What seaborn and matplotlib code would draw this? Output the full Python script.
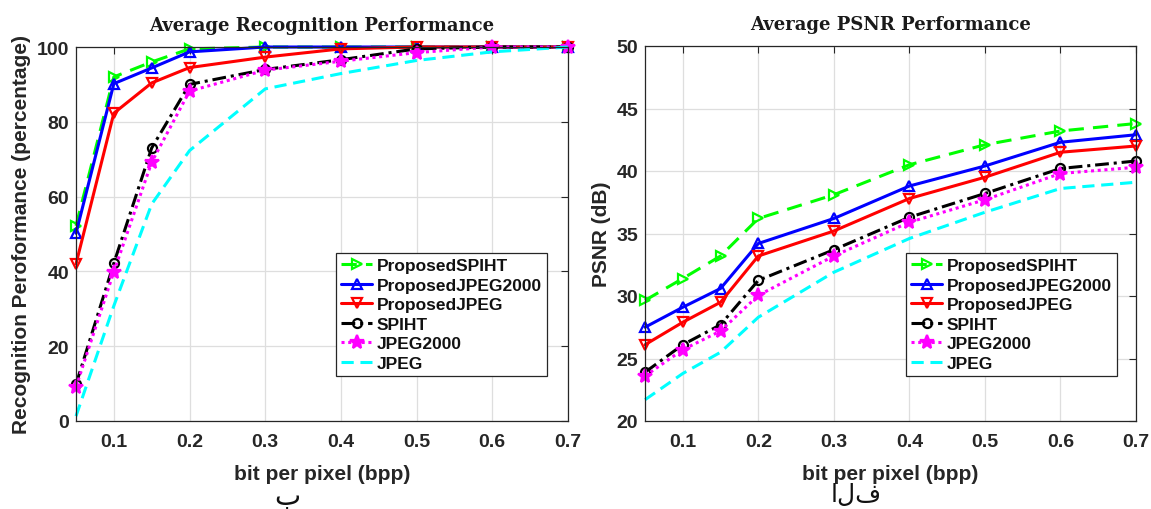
import matplotlib
matplotlib.use("Agg")
import matplotlib.pyplot as plt
import seaborn as sns
import pandas as pd

bpp = [0.05, 0.1, 0.15, 0.2, 0.3, 0.4, 0.5, 0.6, 0.7]
series_names = ["ProposedSPIHT", "ProposedJPEG2000", "ProposedJPEG", "SPIHT", "JPEG2000", "JPEG"]

recog_proposed_spiht = [52.2, 92.0, 96.0, 99.5, 100, 100, 100, 100, 100]
recog_proposed_jpeg2000 = [50.2, 90.2, 94.4, 98.7, 100, 100, 100, 100, 100]
recog_proposed_jpeg = [42.0, 82.3, 90.4, 94.5, 97.3, 99.5, 100, 100, 100]
recog_spiht = [9.8, 42.2, 73.0, 90.0, 94.0, 96.6, 99.5, 100, 100]
recog_jpeg2000 = [9.1, 39.9, 69.2, 88.2, 93.8, 96.2, 98.5, 100, 100]
recog_jpeg = [1.3, 30.8, 58.0, 72.3, 88.8, 92.9, 96.4, 98.7, 100]

psnr_proposed_spiht = [29.65, 31.4, 33.2, 36.2, 38.1, 40.5, 42.1, 43.2, 43.8]
psnr_proposed_jpeg2000 = [27.5, 29.1, 30.6, 34.2, 36.2, 38.8, 40.4, 42.3, 42.9]
psnr_proposed_jpeg = [26.1, 27.9, 29.5, 33.2, 35.2, 37.8, 39.5, 41.5, 42.0]
psnr_spiht = [23.9, 26.1, 27.7, 31.25, 33.7, 36.3, 38.2, 40.2, 40.8]
psnr_jpeg2000 = [23.6, 25.7, 27.2, 30.05, 33.2, 35.9, 37.7, 39.8, 40.3]
psnr_jpeg = [21.7, 23.8, 25.5, 28.3, 31.9, 34.6, 36.7, 38.6, 39.1]

x_ticks = [0.1, 0.2, 0.3, 0.4, 0.5, 0.6, 0.7]
recog_yticks = [0, 20, 40, 60, 80, 100]
psnr_yticks = [20, 25, 30, 35, 40, 45, 50]

styles = {
    "ProposedSPIHT": dict(color="#00ff00", dashes=(5, 3), marker=">", mfc="none", ms=7),
    "ProposedJPEG2000": dict(color="#0000ff", dashes=None, marker="^", mfc="none", ms=7),
    "ProposedJPEG": dict(color="#ff0000", dashes=None, marker="v", mfc="none", ms=7),
    "SPIHT": dict(color="#000000", dashes=(4.5, 1.6, 1, 1.6), marker="o", mfc="none", ms=6.5),
    "JPEG2000": dict(color="#ff00ff", dashes=(1, 1.2), marker="*", mfc="#ff00ff", ms=10),
    "JPEG": dict(color="#00ffff", dashes=(4, 2.2), marker=None, mfc="none", ms=0),
}

sns.set_style("white")
plt.rcParams["font.family"] = ["Liberation Sans", "DejaVu Sans"]
TXT = "#262626"

fig = plt.figure(figsize=(11.51, 5.10), dpi=100)
ax1 = fig.add_axes([76 / 1151, 88 / 510, 492 / 1151, 374 / 510])
ax2 = fig.add_axes([645 / 1151, 88 / 510, 491 / 1151, 375 / 510])

recog = [recog_proposed_spiht, recog_proposed_jpeg2000, recog_proposed_jpeg,
         recog_spiht, recog_jpeg2000, recog_jpeg]
psnr = [psnr_proposed_spiht, psnr_proposed_jpeg2000, psnr_proposed_jpeg,
        psnr_spiht, psnr_jpeg2000, psnr_jpeg]


def draw(ax, data, yticks, ylim, ylabel, title, leg_anchor):
    for name, vals in zip(series_names, data):
        st = styles[name]
        df = pd.DataFrame({"bpp": bpp, "v": vals})
        sns.lineplot(data=df, x="bpp", y="v", ax=ax, color=st["color"],
                     linewidth=2.2,
                     marker=st["marker"] if st["marker"] else "",
                     markersize=st["ms"], markerfacecolor=st["mfc"],
                     markeredgecolor=st["color"], markeredgewidth=1.6,
                     label=name, legend=False)
        line = ax.lines[-1]
        if st["dashes"] is not None:
            line.set_dashes(st["dashes"])
        line.set_clip_on(False)
    ax.set_xlim(0.05, 0.7)
    ax.set_ylim(*ylim)
    ax.set_xticks(x_ticks)
    ax.set_xticklabels([f"{t:g}" for t in x_ticks])
    ax.set_yticks(yticks)
    ax.grid(True, color="#dedede", linewidth=0.9)
    ax.set_axisbelow(True)
    for sp in ax.spines.values():
        sp.set_visible(True)
        sp.set_color(TXT)
        sp.set_linewidth(0.9)
    ax.tick_params(direction="in", length=5, width=0.8, top=True, right=True,
                   labelsize=14, colors=TXT, pad=5)
    ax.tick_params(axis="x", pad=9)
    for lab in ax.get_xticklabels() + ax.get_yticklabels():
        lab.set_fontweight("bold")
    ax.set_xlabel("bit per pixel (bpp)", fontsize=15, fontweight="bold",
                  color=TXT, labelpad=10)
    ax.set_ylabel(ylabel, fontsize=15, fontweight="bold", color=TXT, labelpad=4)
    ax.set_title(title, fontsize=13, fontweight="bold", family="DejaVu Serif",
                 color="#1a1a1a", pad=12)
    h, l = ax.get_legend_handles_labels()
    leg = ax.legend(h, l, loc="upper left", bbox_to_anchor=leg_anchor,
                    borderaxespad=0, frameon=True, fancybox=False,
                    edgecolor="#262626", framealpha=1, numpoints=1,
                    prop={"size": 12.5, "weight": "bold"},
                    handlelength=1.8, handletextpad=0.25, labelspacing=0.25,
                    borderpad=0.3)
    leg.set_zorder(10)
    leg.get_frame().set_linewidth(0.9)
    for t in leg.get_texts():
        t.set_color("#111111")


draw(ax1, recog, recog_yticks, (0, 100), "Recognition Peroformance (percentage)",
     "Average Recognition Performance", (0.528, 0.449))
draw(ax2, psnr, psnr_yticks, (20, 50), "PSNR (dB)",
     "Average PSNR Performance", (0.531, 0.448))

fig.text(287 / 1151, 1 - 497 / 510, "ب", fontsize=20, family="DejaVu Sans",
         ha="center", va="center", color="#111111")
fig.text(856 / 1151, 1 - 495 / 510, "الف", fontsize=18, family="DejaVu Sans",
         ha="center", va="center", color="#111111")

fig.savefig("out.png", dpi=100)
